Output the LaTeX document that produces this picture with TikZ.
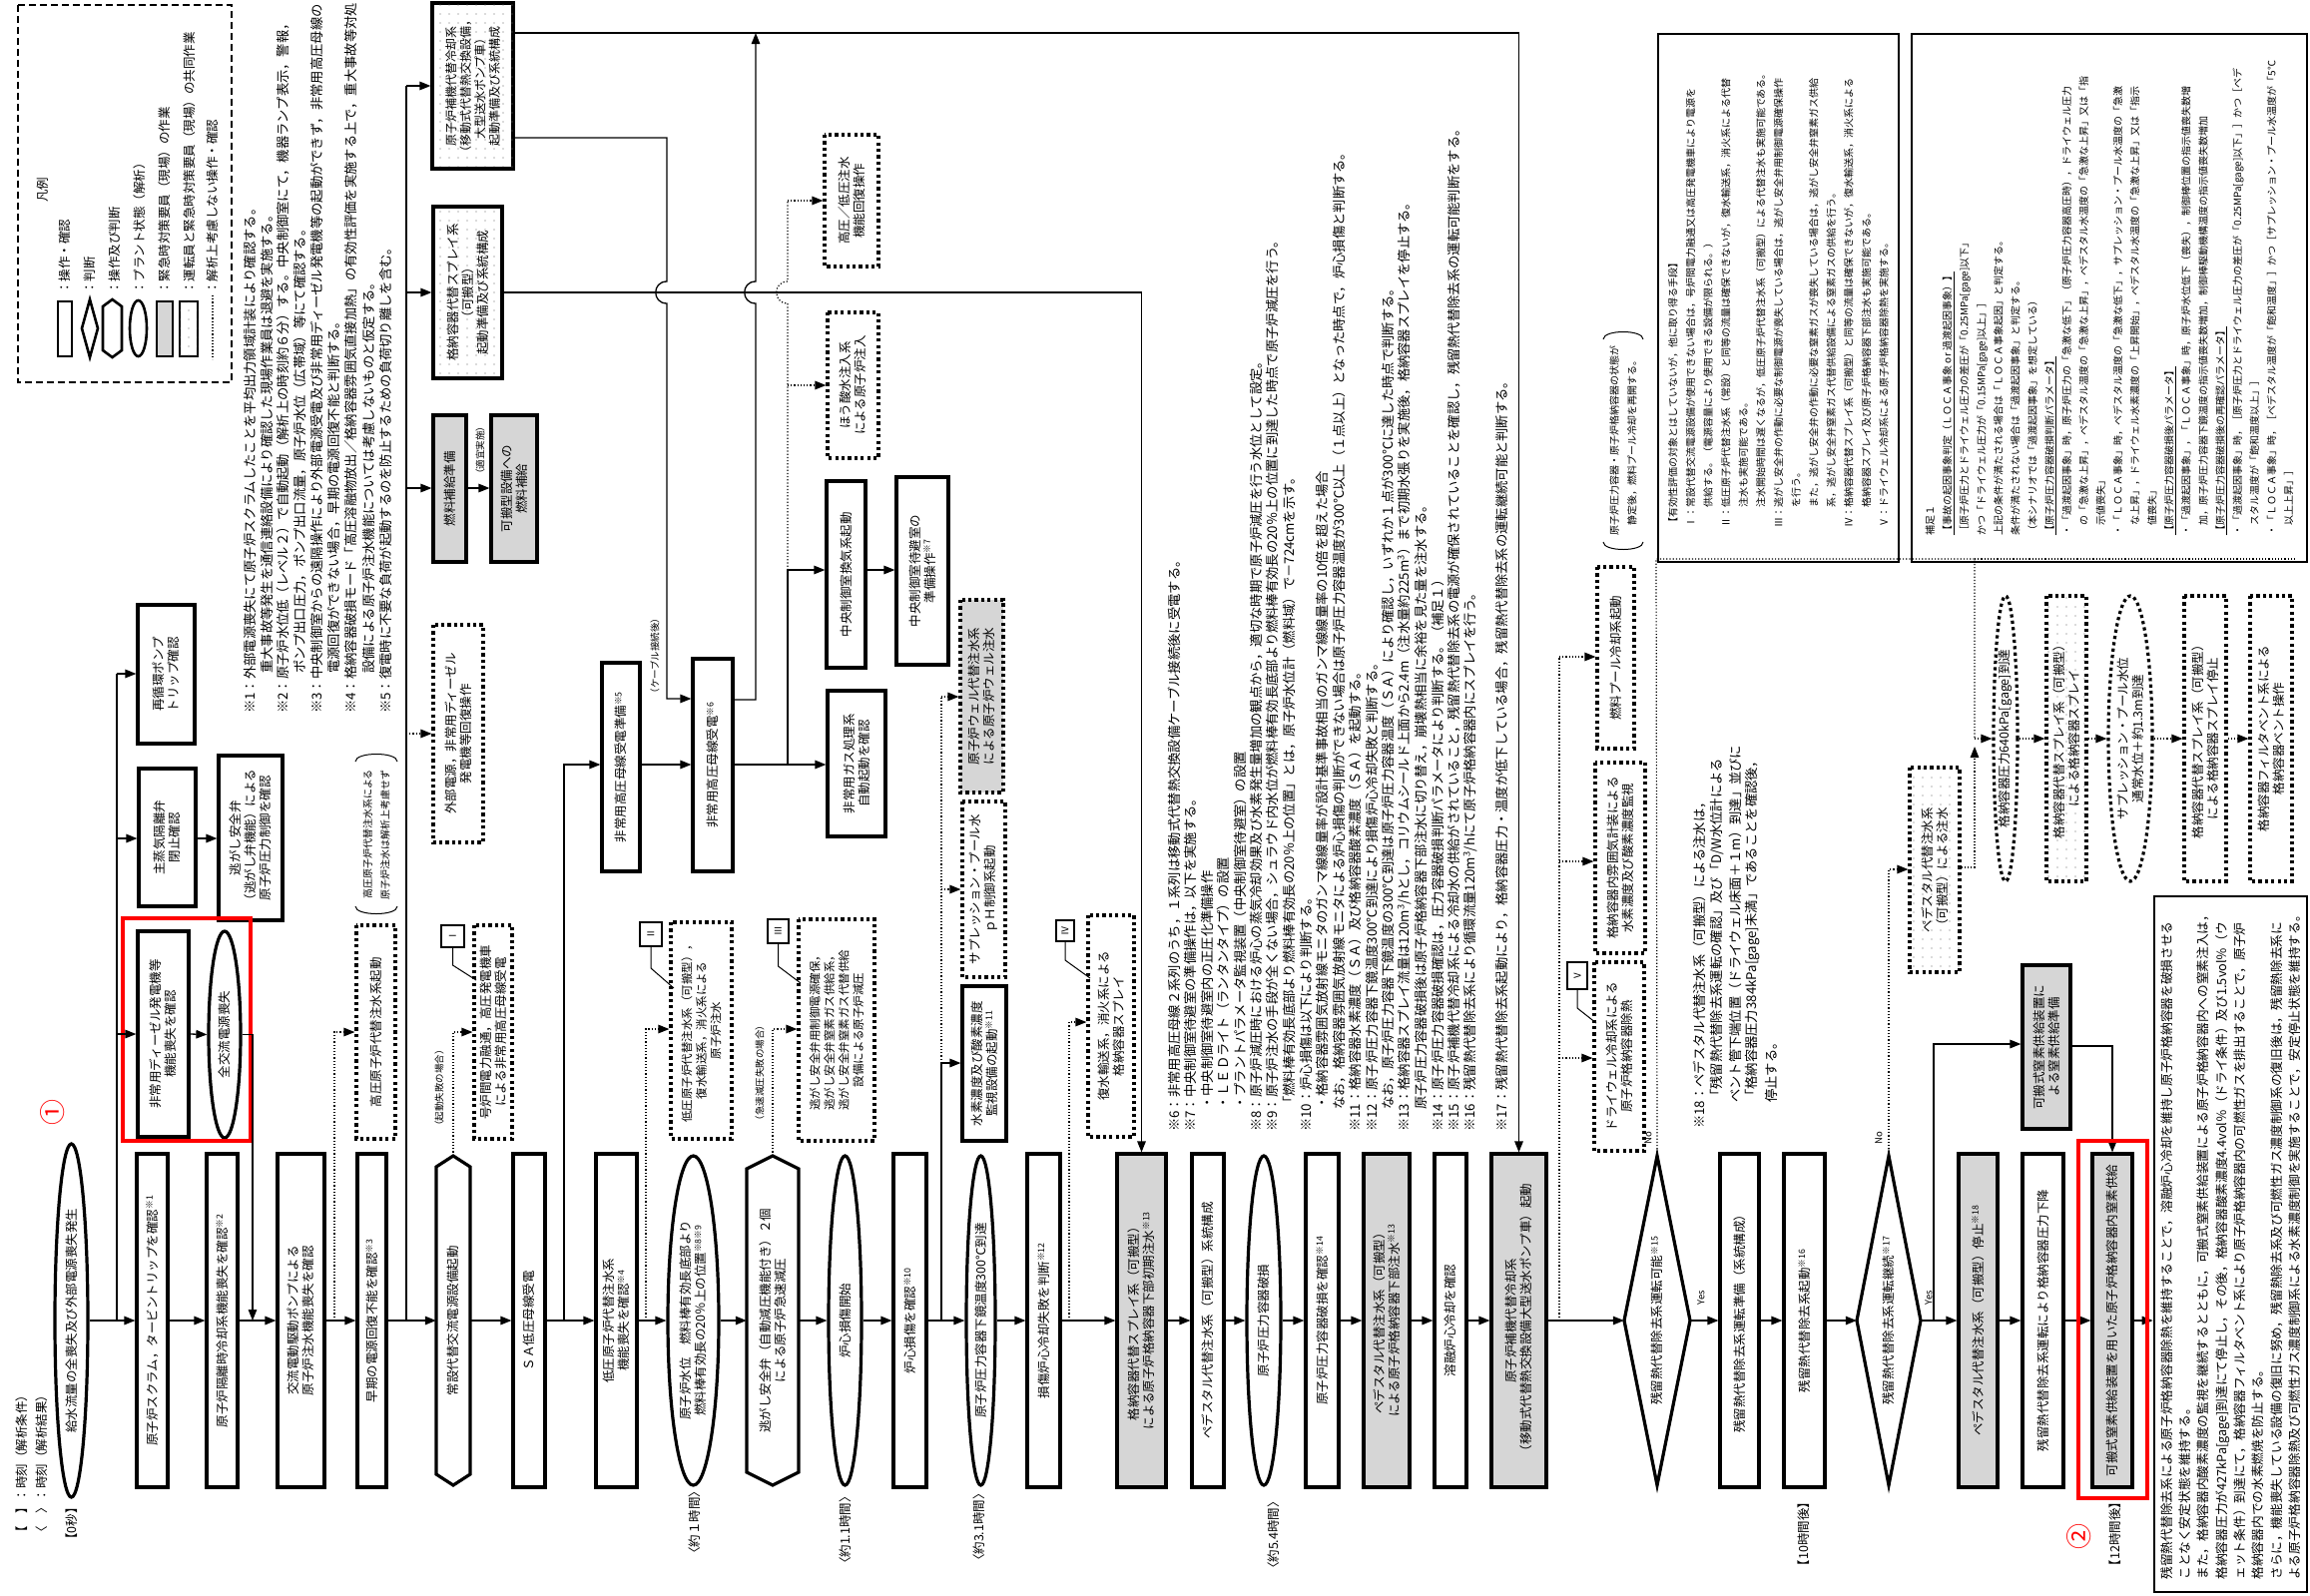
\documentclass[tikz,border=0pt]{standalone}
\usepackage{fontspec}
\setmainfont{Noto Sans CJK JP}
\usetikzlibrary{arrows.meta,patterns.meta,shapes.geometric}
\newcommand\fA{\fontsize{12.5}{15}\selectfont}
\newcommand\fM{\fontsize{11.5}{14.5}\selectfont}
\newcommand\fTop{\fontsize{12}{14.5}\selectfont}
\newcommand\fB{\fontsize{13.3}{17}\selectfont}
\newcommand\fC{\fontsize{10}{17.6}\selectfont}
\newcommand\fCC{\fontsize{10}{17.1}\selectfont}
\newcommand\fD{\fontsize{9.5}{12}\selectfont}
\newcommand\fT{\fontsize{12.7}{18.3}\selectfont}
\newcommand\fL{\fontsize{12.5}{14}\selectfont}
\newcommand\sm[1]{\textsuperscript{#1}}
\newcounter{nl}
\newcommand\RB[7]{\node[#2,rotate=90,minimum width={(#6)-(#5)},minimum height={(#4)-(#3)}] (#1) at ({(#3+#4)/2},{(#5+#6)/2}) {#7};}
\newcommand\RE[7]{\node[#2,minimum width={(#4)-(#3)},minimum height={(#6)-(#5)}] (#1) at ({(#3+#4)/2},{(#5+#6)/2}) {};\node[rotate=90,align=center,font=\fA] (#1t) at (#1) {#7};}
\newcommand\RH[8]{\node[inv,minimum width={(#4)-(#3)},minimum height={(#6)-(#5)}] (#1) at ({(#3+#4)/2},{(#5+#6)/2}) {};\draw[#2] (#3,{#5+#8}) -- ({(#3+#4)/2},#5) -- (#4,{#5+#8}) -- (#4,{#6-#8}) -- ({(#3+#4)/2},#6) -- (#3,{#6-#8}) -- cycle;\node[rotate=90,align=center,font=\fA] (#1t) at (#1) {#7};}
\newcommand\RD[7]{\node[inv,minimum width={(#4)-(#3)},minimum height={(#6)-(#5)}] (#1) at ({(#3+#4)/2},{(#5+#6)/2}) {};\draw[#2] ({(#3+#4)/2},#5) -- (#4,{(#5+#6)/2}) -- ({(#3+#4)/2},#6) -- (#3,{(#5+#6)/2}) -- cycle;\node[rotate=90,align=center,font=\fA] (#1t) at (#1) {#7};}
\newcommand\NL[4]{\stepcounter{nl}\node[nt,font=#1] (nl\arabic{nl}) at (#2,#3) {#4};}
\begin{document}
\begin{tikzpicture}[x=1pt,y=-1pt,
 ln/.style={line width=1.3pt},
 arr/.style={ln,-{Triangle[length=11pt,width=8.5pt]}},
 dl/.style={line width=1.2pt,dash pattern=on 1.2pt off 2pt},
 darr/.style={dl,-{Triangle[length=11pt,width=8.5pt]}},
 bx/.style={draw,line width=3.2pt,fill=white,align=center,inner sep=1pt,font=\fA},
 gb/.style={bx,fill=black!16},
 db/.style={bx,dash pattern=on 3.2pt off 3.2pt},
 dg/.style={db,fill=black!16},
 dotfill/.style={postaction={pattern={Dots[distance=9pt,radius=0.6pt]},pattern color=black!60}},
 bxd/.style={bx,dotfill},
 dbd/.style={db,dotfill},
 shp/.style={draw,line width=3.2pt,fill=white},
 ell/.style={draw,ellipse,line width=3.2pt,fill=white,inner sep=0pt},
 del/.style={ell,dash pattern=on 3.2pt off 3.2pt},
 inv/.style={draw=none,fill=none,inner sep=0pt,shape=rectangle},
 nt/.style={rotate=90,anchor=west,inner sep=0pt},
 rom/.style={draw,line width=1.3pt,fill=white,font=\fD,inner sep=0pt},
 lab/.style={rotate=90,inner sep=0pt},
 tbx/.style={draw,line width=2.6pt,align=left,font=\fT,inner sep=3pt},
 nbx/.style={draw,line width=2pt,align=left,inner sep=4pt},
 redb/.style={draw=red,line width=4pt}]
\useasboundingbox (0,0) rectangle (2314,1598);
\fill[white] (0,0) rectangle (2314,1598);

% ---------- legend
\draw[line width=1.6pt,dash pattern=on 7pt off 4pt] (18,5) rectangle (232,383);
\node[lab,font=\fL] (lgT) at (43,190) {凡例};
\draw[line width=2.6pt] (58,302) rectangle (72,357);
\draw[line width=2.6pt] (90,300) -- (98,329) -- (90,358) -- (82,329) -- cycle;
\draw[line width=2.6pt] (103,307) -- (112.5,300) -- (122,307) -- (122,351) -- (112.5,358) -- (103,351) -- cycle;
\draw[line width=2.6pt] (138.5,329) ellipse [x radius=8.5pt,y radius=28pt];
\draw[line width=2.6pt,fill=black!16] (157,302) rectangle (173,357);
\draw[line width=2.6pt,dotfill] (180,302) rectangle (198,357);
\draw[dl] (213,296) -- (213,360);
\NL{\fL}{65}{295}{：操作・確認}
\NL{\fL}{90}{295}{：判断}
\NL{\fL}{115}{295}{：操作及び判断}
\NL{\fL}{140}{295}{：プラント状態（解析）}
\NL{\fL}{165}{295}{：緊急時対策要員（現場）の作業}
\NL{\fL}{190}{295}{：運転員と緊急時対策要員（現場）の共同作業}
\NL{\fL}{213}{295}{：解析上考慮しない操作・確認}

\NL{\fL}{22}{1542}{【　】：時刻（解析条件）}
\NL{\fL}{42}{1542}{〈　〉：時刻（解析結果）}
\NL{\fL}{72}{1549}{【0秒】}

% ---------- notes 1-5
\NL{\fB}{250}{715}{※1：外部電源喪失にて原子炉スクラムしたことを平均出力領域計装により確認する。}
\NL{\fB}{267}{675}{重大事故等発生を通信連絡設備により確認した現場作業員は退避を実施する。}
\NL{\fB}{284}{715}{※2：原子炉水位低（レベル２）で自動起動（解析上の時刻約６分）する。中央制御室にて，機器ランプ表示，警報，}
\NL{\fB}{301}{675}{ポンプ出口圧力，ポンプ出口流量，原子炉水位（広帯域）等にて確認する。}
\NL{\fB}{318}{715}{※3：中央制御室からの遠隔操作により外部電源受電及び非常用ディーゼル発電機等の起動ができず，非常用高圧母線の}
\NL{\fB}{335}{675}{電源回復ができない場合，早期の電源回復不能と判断する。}
\NL{\fB}{352}{715}{※4：格納容器破損モード「高圧溶融物放出／格納容器雰囲気直接加熱」の有効性評価を実施する上で，重大事故等対処}
\NL{\fB}{369}{675}{設備による原子炉注水機能については考慮しないものと仮定する。}
\NL{\fB}{386}{715}{※5：復電時に不要な負荷が起動するのを防止するための負荷切り離しを含む。}

% ---------- notes 6-17
\NL{\fB}{1176}{1134}{※6：非常用高圧母線２系列のうち，１系列は移動式代替熱交換設備ケーブル接続後に受電する。}
\NL{\fB}{1192.5}{1134}{※7：中央制御室待避室の準備操作は，以下を実施する。}
\NL{\fB}{1209}{1112}{・中央制御室待避室内の正圧化準備操作}
\NL{\fB}{1225.5}{1112}{・ＬＥＤライト（ランタンタイプ）の設置}
\NL{\fB}{1242}{1112}{・プラントパラメータ監視装置（中央制御室待避室）の設置}
\NL{\fB}{1258.5}{1134}{※8：原子炉減圧時における炉心の蒸気冷却効果及び水素発生量増加の観点から，適切な時期で原子炉減圧を行う水位として設定。}
\NL{\fB}{1275}{1134}{※9：原子炉注水の手段が全くない場合，シュラウド内水位が燃料棒有効長底部より燃料棒有効長の20％上の位置に到達した時点で原子炉減圧を行う。}
\NL{\fB}{1291.5}{1112}{「燃料棒有効長底部より燃料棒有効長の20％上の位置」とは，原子炉水位計（燃料域）で－724cmを示す。}
\NL{\fB}{1308}{1134}{※10：炉心損傷は以下により判断する。}
\NL{\fB}{1324.5}{1112}{・格納容器雰囲気放射線モニタのガンマ線線量率が設計基準事故相当のガンマ線線量率の10倍を超えた場合}
\NL{\fB}{1341}{1112}{なお，格納容器雰囲気放射線モニタによる炉心損傷の判断ができない場合は原子炉圧力容器温度が300℃以上（１点以上）となった時点で，炉心損傷と判断する。}
\NL{\fB}{1357.5}{1134}{※11：格納容器水素濃度（ＳＡ）及び格納容器酸素濃度（ＳＡ）を起動する。}
\NL{\fB}{1374}{1134}{※12：原子炉圧力容器下鏡温度300℃到達により損傷炉心冷却失敗と判断する。}
\NL{\fB}{1390.5}{1112}{なお，原子炉圧力容器下鏡温度の300℃到達は原子炉圧力容器温度（ＳＡ）により確認し，いずれか１点が300℃に達した時点で判断する。}
\NL{\fB}{1407}{1134}{※13：格納容器スプレイ流量は120m\textsuperscript{3}/hとし，コリウムシールド上面から2.4m（注水量約225m\textsuperscript{3}）まで初期水張りを実施後，格納容器スプレイを停止する。}
\NL{\fB}{1423.5}{1112}{原子炉圧力容器破損後は原子炉格納容器下部注水に切り替え，崩壊熱相当に余裕を見た量を注水する。}
\NL{\fB}{1440}{1134}{※14：原子炉圧力容器破損確認は，圧力容器破損判断パラメータにより判断する。（補足１）}
\NL{\fB}{1456.5}{1134}{※15：原子炉補機代替冷却系による冷却水の供給がされていること，残留熱代替除去系の電源が確保されていることを確認し，残留熱代替除去系の運転可能判断をする。}
\NL{\fB}{1473}{1134}{※16：残留熱代替除去系により循環流量120m\textsuperscript{3}/hにて原子炉格納容器内にスプレイを行う。}
\NL{\fB}{1505}{1134}{※17：残留熱代替除去系起動により，格納容器圧力・温度が低下している場合，残留熱代替除去系の運転継続可能と判断する。}

% ---------- note 18
\NL{\fB}{1702}{1131}{※18：ペデスタル代替注水系（可搬型）による注水は，}
\NL{\fB}{1720}{1105}{「残留熱代替除去系運転の確認」及び「D/W水位計による}
\NL{\fB}{1738}{1105}{ベント管下端位置（ドライウェル床面＋１m）到達」並びに}
\NL{\fB}{1756}{1105}{「格納容器圧力384kPa[gage]未満」であることを確認後，}
\NL{\fB}{1774}{1105}{停止する。}

% ---------- main chain
\RE{E1}{ell}{55}{88}{1146}{1500}{給水流量の全喪失及び外部電源喪失発生}
\RB{B1}{bx}{137}{168}{1156}{1490}{原子炉スクラム，タービントリップを確認\sm{※1}}
\RB{B2}{bx}{207}{238}{1156}{1490}{原子炉隔離時冷却系機能喪失を確認\sm{※2}}
\RB{B3}{bx}{278}{325}{1156}{1490}{交流電動駆動ポンプによる\\原子炉注水機能喪失を確認}
\RB{B4}{bx}{358}{387}{1156}{1490}{早期の電源回復不能を確認\sm{※3}}
\RH{H1}{shp}{437}{471}{1158}{1488}{常設代替交流電源設備起動}{11}
\RB{B5}{bx}{514}{546}{1156}{1490}{ＳＡ低圧母線受電}
\RB{B6}{bx}{597}{638}{1156}{1490}{低圧原子炉代替注水系\\機能喪失を確認\sm{※4}}
\RE{E2}{ell}{669}{720}{1158}{1488}{原子炉水位　燃料棒有効長底部より\\燃料棒有効長の20％上の位置\sm{※8※9}}
\RH{H2}{shp}{748}{800}{1158}{1488}{逃がし安全弁（自動減圧機能付き）２個\\による原子炉急速減圧}{13}
\RE{E3}{ell}{830}{863}{1158}{1488}{炉心損傷開始}
\RB{B7}{bx}{895}{928}{1156}{1490}{炉心損傷を確認\sm{※10}}
\RE{E4}{ell}{968}{997}{1158}{1488}{原子炉圧力容器下鏡温度300℃到達}
\RB{B8}{bx}{1029}{1062}{1156}{1490}{損傷炉心冷却失敗を判断\sm{※12}}
\RB{G1}{gb}{1119}{1168}{1156}{1490}{格納容器代替スプレイ系（可搬型）\\による原子炉格納容器下部初期注水\sm{※13}}
\RB{B9}{bx}{1194}{1226}{1156}{1490}{ペデスタル代替注水系（可搬型）系統構成}
\RE{E5}{ell}{1249}{1283}{1158}{1488}{原子炉圧力容器破損}
\RB{B10}{bx}{1308}{1341}{1156}{1490}{原子炉圧力容器破損を確認\sm{※14}}
\RB{G2}{gb}{1366}{1412}{1156}{1490}{ペデスタル代替注水系（可搬型）\\による原子炉格納容器下部注水\sm{※13}}
\RB{B11}{bx}{1437}{1469}{1156}{1490}{溶融炉心冷却を確認}
\RB{G3}{gb}{1494}{1549}{1156}{1490}{原子炉補機代替冷却系\\（移動式代替熱交換設備大型送水ポンプ車）起動}
\RD{D1}{shp}{1627}{1693}{1158}{1488}{残留熱代替除去系運転可能\sm{※15}}
\RB{B12}{bx}{1723}{1762}{1156}{1490}{残留熱代替除去系運転準備（系統構成）}
\RB{B13}{bx}{1787}{1828}{1156}{1490}{残留熱代替除去系起動\sm{※16}}
\RD{D2}{shp}{1860}{1924}{1158}{1488}{残留熱代替除去系運転継続\sm{※17}}
\RB{G4}{gb}{1962}{2001}{1156}{1490}{ペデスタル代替注水系（可搬型）停止\sm{※18}}
\RB{B14}{bx}{2026}{2067}{1156}{1490}{残留熱代替除去系運転により格納容器圧力下降}
\RB{G5}{gb}{2096}{2136}{1156}{1490}{可搬式窒素供給装置を用いた原子炉格納容器内窒素供給}
\RB{TB}{tbx}{2158}{2311}{898}{1595}{残留熱代替除去系による原子炉格納容器除熱を維持することで，溶融炉心冷却を維持し原子炉格納容器を破損させる\\ことなく安定状態を維持する。\\また，格納容器内酸素濃度の監視を継続するとともに，可搬式窒素供給装置による原子炉格納容器内への窒素注入は，\\格納容器圧力が427kPa[gage]到達にて停止し，その後，格納容器酸素濃度4.4vol％（ドライ条件）及び1.5vol％（ウ\\ェット条件）到達にて，格納容器フィルタベント系により原子炉格納容器内の可燃性ガスを排出することで，原子炉\\格納容器内での水素燃焼を防止する。\\さらに，機能喪失している設備の復旧に努め，残留熱除去系及び可燃性ガス濃度制御系の復旧後は，残留熱除去系に\\よる原子炉格納容器除熱及び可燃性ガス濃度制御系による水素濃度制御を実施することで，安定停止状態を維持する。}

\foreach \a/\b in {E1/B1,B1/B2,B2/B3,B3/B4,B4/H1,H1/B5,B5/B6,B6/E2,E2/H2,H2/E3,E3/B7,B7/E4,E4/B8,B8/G1,G1/B9,B9/E5,E5/B10,B10/G2,G2/B11,B11/G3,G3/D1,D1/B12,B12/B13,B13/D2,D2/G4,G4/B14,B14/G5}
  \draw[arr] (\a) -- (\b);
\draw[arr] (G5) -- (G5 -| TB.north);

% time labels
\node[lab,font=\fL] (t1) at (696,1525) {〈約１時間〉};
\node[lab,font=\fL] (t2) at (847,1533) {〈約1.1時間〉};
\node[lab,font=\fL] (t3) at (981,1530) {〈約3.1時間〉};
\node[lab,font=\fL] (t4) at (1276,1538) {〈約5.4時間〉};
\node[lab,font=\fL] (t5) at (1807,1537) {【10時間後】};
\node[lab,font=\fL] (t6) at (2119,1537) {【12時間後】};
\node[lab,font=\fD] (y1) at (1704,1300) {Yes};
\node[lab,font=\fD] (y2) at (1932,1300) {Yes};
\node[lab,font=\fD] (n1) at (1651,1140) {No};
\node[lab,font=\fD] (n2) at (1882,1140) {No};

% ---------- upper left branch
\RB{R1}{bx}{138}{195}{606}{745}{再循環ポンプ\\トリップ確認}
\RB{R2}{bx}{139}{196}{770}{908}{主蒸気隔離弁\\閉止確認}
\RB{R3}{bx}{219}{283}{757}{922}{逃がし安全弁\\（逃がし弁機能）による\\原子炉圧力制御を確認}
\RB{DG}{bx}{138}{189}{933}{1139}{非常用ディーゼル発電機等\\機能喪失を確認}
\RE{AC}{ell}{209}{241}{933}{1140}{全交流電源喪失}
\draw[redb] (123,920) rectangle (251,1143);
\node[text=red,font=\fontsize{26}{26}\selectfont,rotate=90] (c1) at (53,1114) {①};
\draw[ln] (117,1323) -- (117,675);
\draw[arr] (117,675) -- (R1.north |- 0,675);
\draw[arr] (117,840) -- (R2.north |- 0,840);
\draw[arr] (R2.south |- 0,840) -- (R3.north |- 0,840);
\draw[arr] (117,1036) -- (DG.north |- 0,1036);
\draw[arr] (DG.south |- 0,1036) -- (AC.west);
\draw[arr] (AC.east) -| (253,1323);

\RB{HP}{db}{357}{396}{927}{1141}{高圧原子炉代替注水系起動}
\draw[darr] (335,1323) |- (HP.north |- 0,1034);
\node[lab,align=center,font=\fC] (bn1) at (377,836) {高圧原子炉代替注水系による\\原子炉注水は解析上考慮せず};
\draw[line width=1pt] (356,763) .. controls (356,753) and (398,753) .. (398,763);
\draw[line width=1pt] (356,908) .. controls (356,918) and (398,918) .. (398,908);

\RB{GR}{db}{475}{513}{927}{1141}{号炉間電力融通，高圧発電機車\\による非常用高圧母線受電}
\draw[darr] (H1.north) |- (GR.north |- 0,1034);
\node[lab,font=\fD] (kf) at (440,1090) {（起動失敗の場合）};
\RB{rI}{rom}{442}{465}{927}{949}{Ⅰ}
\draw[line width=1pt] (rI.west) -- (453.5,967) -- (477,982);

% ---------- x407 branch
\RB{TopB}{bxd,font=\fTop}{433}{514}{3}{169}{原子炉補機代替冷却系\\（移動式代替熱交換設備，\\大型送水ポンプ車）\\起動準備及び系統構成}
\RB{CSB}{bxd}{434}{503}{207}{379}{格納容器代替スプレイ系\\（可搬型）\\起動準備及び系統構成}
\RB{FuelP}{gb}{434}{467}{416}{563}{燃料補給準備}
\RB{FuelS}{gb}{492}{538}{416}{563}{可搬型設備への\\燃料補給}
\RB{ExtB}{db}{434}{484}{626}{844}{外部電源，非常用ディーゼル\\発電機等回復操作}
\node[lab,font=\fD] (tk) at (481,451) {（適宜実施）};
\draw[ln] (407,1323) -- (407,86);
\draw[arr] (407,86) -- (TopB.north |- 0,86);
\draw[arr] (407,293) -- (CSB.north |- 0,293);
\draw[arr] (407,489) -- (FuelP.north |- 0,489);
\draw[darr] (407,735) -- (ExtB.north |- 0,735);
\draw[arr] (FuelP.south |- 0,489) -- (FuelS.north |- 0,489);

% ---------- x565 branch
\RB{Prep}{bx}{603}{641}{664}{873}{非常用高圧母線受電準備\sm{※5}}
\RB{Rcv}{bx}{694}{734}{660}{873}{非常用高圧母線受電\sm{※6}}
\node[lab,font=\fD] (cb) at (656,657) {（ケーブル接続後）};
\draw[arr] (565,1323) |- (Prep.north |- 0,766);
\draw[arr] (Prep.south |- 0,766) -- (Rcv.north |- 0,766);
\draw[arr] (TopB.south |- 0,138) -- (668,138) -- (668,282) .. controls (653,282) and (653,304) .. (668,304) -- (668,700) -- (Rcv.north |- 0,700);
\draw[arr] (Rcv.south |- 0,701) -- (757,701) -- (757,304) .. controls (742,304) and (742,282) .. (757,282) -- (757,33);
\draw[arr] (TopB.south |- 0,33) -| (G3.east);
\draw[arr] (CSB.south |- 0,293) -| (G1.east);

\RB{VentB}{bx}{828}{867}{482}{669}{中央制御室換気系起動}
\RB{Wait}{bx}{898}{950}{478}{666}{中央制御室待避室の\\準備操作\sm{※7}}
\RB{Gas}{bx}{829}{887}{692}{838}{非常用ガス処理系\\自動起動を確認}
\RB{Boric}{db}{829}{880}{313}{459}{ほう酸水注入系\\による原子炉注入}
\RB{Recov}{db}{826}{880}{135}{267}{高圧／低圧注水\\機能回復操作}
\draw[arr] (Rcv.south |- 0,766) -- (Gas.north |- 0,766);
\draw[arr] (789,766) |- (VentB.north |- 0,571);
\draw[arr] (VentB.south |- 0,571) -- (Wait.north |- 0,571);
\draw[dl] (789,571) -- (789,304) .. controls (774,304) and (774,282) .. (789,282) -- (789,201);
\draw[darr] (789,386) -- (Boric.north |- 0,386);
\draw[darr] (789,201) -- (Recov.north |- 0,201);

% ---------- lower dotted branches
\RB{LP}{db,font=\fM}{672}{733}{924}{1141}{低圧原子炉代替注水系（可搬型），\\復水輸送系，消火系による\\原子炉注水}
\draw[darr] (647,1323) |- (LP.north |- 0,1031);
\RB{rII}{rom}{641}{663}{924}{948}{Ⅱ}
\draw[line width=1pt] (rII.west) -- (652,970) -- (675,990);

\RB{SRV}{db,font=\fM}{800}{876}{921}{1143}{逃がし安全弁用制御電源確保，\\逃がし安全弁窒素ガス供給系，\\逃がし安全弁窒素ガス代替供給\\設備による原子炉減圧}
\draw[darr] (H2.north) |- (SRV.north |- 0,1031);
\node[lab,font=\fD] (kg) at (761,1075) {（急速減圧失敗の場合）};
\RB{rIII}{rom}{769}{790}{921}{945}{Ⅲ}
\draw[line width=1pt] (rIII.west) -- (779.5,968) -- (802,985);

\RB{H2B}{bx}{964}{1008}{988}{1143}{水素濃度及び酸素濃度\\監視設備の起動\sm{※11}}
\RB{pH}{db}{964}{1007}{803}{979}{サプレッション・プール水\\ｐＨ制御系起動}
\RB{Well}{dg}{962}{1005}{601}{794}{原子炉ウェル代替注水系\\による原子炉ウェル注水}
\draw[ln] (943,1323) -- (943,1065);
\draw[arr] (943,1065) -- (H2B.north |- 0,1065);
\draw[dl] (943,1065) -- (943,698);
\draw[darr] (943,891) -- (pH.north |- 0,891);
\draw[darr] (943,698) -- (Well.north |- 0,698);

\RB{SprB}{db}{1090}{1136}{917}{1139}{復水輸送系，消火系による\\格納容器スプレイ}
\draw[darr] (1071,1323) |- (SprB.north |- 0,1024);
\RB{rIV}{rom}{1058}{1076}{922}{943}{Ⅳ}
\draw[line width=1pt] (rIV.west) -- (1067,962) -- (1092,980);

% ---------- right dotted branch
\RB{FP}{db}{1600}{1637}{568}{750}{燃料プール冷却系起動}
\RB{PCV}{db}{1598}{1648}{764}{955}{格納容器内雰囲気計装による\\水素濃度及び酸素濃度監視}
\RB{DW}{db}{1597}{1647}{964}{1153}{ドライウェル冷却系による\\原子炉格納容器除熱}
\RB{rV}{rom}{1570}{1590}{964}{991}{Ⅴ}
\draw[line width=1pt] (rV.west) -- (1580,1010) -- (1599,1025);
\draw[dl] (1562,1323) -- (1562,658);
\draw[darr] (1562,658) -- (FP.north |- 0,658);
\draw[darr] (1562,863) -- (PCV.north |- 0,863);
\draw[darr] (1562,1060) -- (DW.north |- 0,1060);
\node[lab,align=center,font=\fC] (bn2) at (1626,441) {原子炉圧力容器・原子炉格納容器の状態が\\静定後，燃料プール冷却を再開する。};
\draw[line width=1pt] (1606,340) .. controls (1606,330) and (1646,330) .. (1646,340);
\draw[line width=1pt] (1606,543) .. controls (1606,553) and (1646,553) .. (1646,543);

% ---------- far right chain
\RB{Ped}{dbd}{1913}{1963}{769}{974}{ペデスタル代替注水系\\（可搬型）による注水}
\RE{PE1}{del}{1997}{2021}{597}{883}{格納容器圧力640kPa[gage]到達}
\RB{Spr}{dbd}{2050}{2090}{597}{883}{格納容器代替スプレイ系（可搬型）\\による格納容器スプレイ}
\RE{PE2}{del}{2112}{2156}{597}{883}{サプレッション・プール水位\\通常水位＋約1.3m到達}
\RB{Stop}{db}{2188}{2230}{597}{883}{格納容器代替スプレイ系（可搬型）\\による格納容器スプレイ停止}
\RB{Vent2}{db}{2254}{2296}{597}{883}{格納容器フィルタベント系による\\格納容器ベント操作}
\draw[dl] (D1.north) -- (1659,560) -- (1978,560) -- (1978,740);
\draw[dl] (1978,560) -- (2300,560);
\draw[darr] (1978,740) -- (PE1.west);
\draw[darr] (D2.north) |- (Ped.north |- 0,871);
\draw[darr] (Ped.south |- 0,869) -- (1978,869) -- (1978,748);
\draw[darr] (PE1) -- (Spr);
\draw[darr] (Spr) -- (PE2);
\draw[darr] (PE2) -- (Stop);
\draw[darr] (Stop) -- (Vent2);

\RB{N2p}{gb}{2026}{2074}{967}{1131}{可搬式窒素供給装置に\\よる窒素供給準備}
\draw[arr] (1937,1323) |- (N2p.north |- 0,1046);
\draw[arr] (N2p.south |- 0,1048) -| (G5.east);
\draw[redb] (2082,1143) rectangle (2151,1501);
\node[text=red,font=\fontsize{26}{26}\selectfont,rotate=90] (c2) at (2083,1539) {②};

% ---------- info boxes
\RB{BA}{nbx,font=\fC}{1661}{1902}{34}{563}{【有効性評価の対象とはしていないが，他に取り得る手段】\\Ⅰ：常設代替交流電源設備が使用できない場合は，号炉間電力融通又は高圧発電機車により電源を\\　　供給する。（電源容量により使用できる設備が限られる。）\\Ⅱ：低圧原子炉代替注水系（常設）と同等の流量は確保できないが，復水輸送系，消火系による代替\\　　注水も実施可能である。\\　　注水開始時間は遅くなるが，低圧原子炉代替注水系（可搬型）による代替注水も実施可能である。\\Ⅲ：逃がし安全弁の作動に必要な制御電源が喪失している場合は，逃がし安全弁用制御電源確保操作\\　　を行う。\\　　また，逃がし安全弁の作動に必要な窒素ガスが喪失している場合は，逃がし安全弁窒素ガス供給\\　　系，逃がし安全弁窒素ガス代替供給設備による窒素ガスの供給を行う。\\Ⅳ：格納容器代替スプレイ系（可搬型）と同等の流量は確保できないが，復水輸送系，消火系による\\　　格納容器スプレイ及び原子炉格納容器下部注水も実施可能である。\\Ⅴ：ドライウェル冷却系による原子炉格納容器除熱を実施する。}
\RB{BB}{nbx,font=\fCC}{1915}{2311}{34}{563}{補足１\\\underline{【事故の起因事象判定（ＬＯＣＡ事象 or 過渡起因事象）】}\\［原子炉圧力とドライウェル圧力の差圧が「0.25MPa[gage]以下」\\かつ「ドライウェル圧力が「0.15MPa[gage]以上」］\\上記の条件が満たされる場合は「ＬＯＣＡ事象起因」と判定する。\\条件が満たされない場合は「過渡起因事象」と判定する。\\（本シナリオでは「過渡起因事象」を想定している）\\\underline{【原子炉圧力容器破損判断パラメータ】}\\・「過渡起因事象」時，原子炉圧力の「急激な低下」（原子炉圧力容器高圧時），ドライウェル圧力\\　の「急激な上昇」，ペデスタル温度の「急激な上昇」，ペデスタル水温度の「急激な上昇」又は「指\\　示値喪失」\\・「ＬＯＣＡ事象」時，ペデスタル温度の「急激な低下」，サプレッション・プール水温度の「急激\\　な上昇」，ドライウェル水素濃度の「上昇開始」，ペデスタル水温度の「急激な上昇」又は「指示\\　値喪失」\\\underline{【原子炉圧力容器破損後パラメータ】}\\・「過渡起因事象」，「ＬＯＣＡ事象」時，原子炉水位低下（喪失），制御棒位置の指示値喪失数増\\　加，原子炉圧力容器下鏡温度の指示値喪失数増加，制御棒駆動機構温度の指示値喪失数増加\\\underline{【原子炉圧力容器破損後の再確認パラメータ】}\\・「過渡起因事象」時，［原子炉圧力とドライウェル圧力の差圧が「0.25MPa[gage]以下」］かつ［ペデ\\　スタル温度が「飽和温度以上」］\\・「ＬＯＣＡ事象」時，［ペデスタル温度が「飽和温度」］かつ［サプレッション・プール水温度が「5℃\\　以上上昇」］}
\end{tikzpicture}
\end{document}
